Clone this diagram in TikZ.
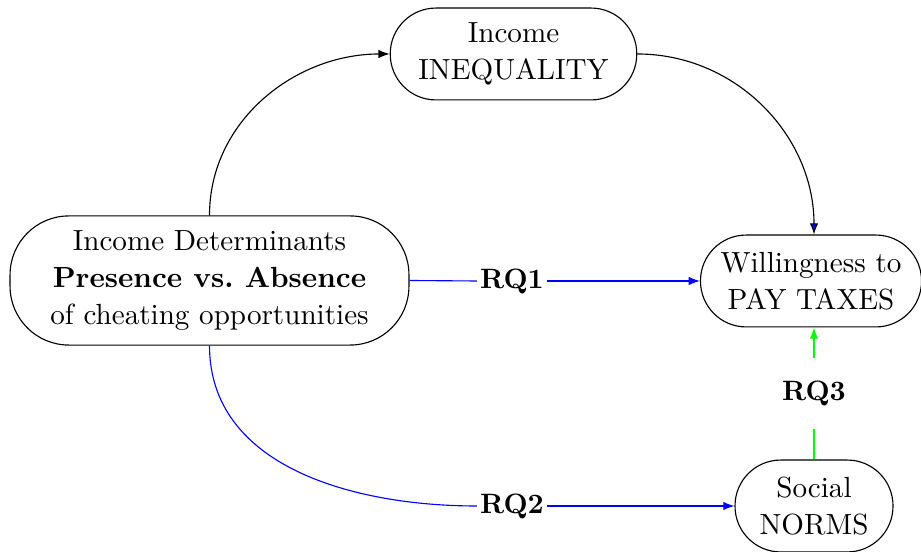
\documentclass[tikz,border=0pt]{standalone}
\usetikzlibrary{arrows.meta}
\begin{document}
\begin{tikzpicture}[x=0.357pt,y=-0.357pt,
  box/.style={draw, rounded corners=16.3pt, align=center, inner sep=0pt, font=\fontsize{10.4}{13.1}\selectfont},
  rq/.style={font=\bfseries, inner xsep=1pt, inner ysep=0pt, minimum height=25pt, fill=white},
  tip/.style={-{Latex[length=4pt,width=3pt]}},
  bluetip/.style={-{Latex[length=4pt,width=3pt,fill=blue]}}]
\useasboundingbox (0,0) rectangle (921,552);
\node[box, minimum width=88pt, minimum height=32.8pt] (ineq) at (513.5,54) {Income\\INEQUALITY};
\node[box, rounded corners=21pt, minimum width=142.4pt, minimum height=46.1pt] (det) at (209.5,280.5)
  {Income Determinants\\\textbf{Presence vs.\ Absence}\\of cheating opportunities};
\node[box, minimum width=78.9pt, minimum height=32.8pt] (will) at (811,281) {Willingness to\\PAY TAXES};
\node[box, minimum width=56.4pt, minimum height=32.8pt] (norms) at (814,506) {Social\\NORMS};
\node[rq] (rq1) at (512,281) {RQ1};
\node[rq] (rq2) at (512,506) {RQ2};
\node[rq] (rq3) at (814,393.5) {RQ3};
\coordinate (wtop) at (rq3 |- will.north);
\coordinate (wbot) at (rq3 |- will.south);
\draw[tip] (det.north) to[out=90,in=180] (ineq.west);
\draw[bluetip] (ineq.east) to[out=0,in=90] (wtop);
\draw[blue] (det.east) -- (rq1.west);
\draw[blue,tip] (rq1.east) -- (will.west);
\draw[blue] (det.south) to[out=-90,in=180] (rq2.west);
\draw[blue,tip] (rq2.east) -- (norms.west);
\draw[green] (norms.north) -- (rq3.south);
\draw[green,tip] (rq3.north) -- (wbot);
\end{tikzpicture}
\end{document}
